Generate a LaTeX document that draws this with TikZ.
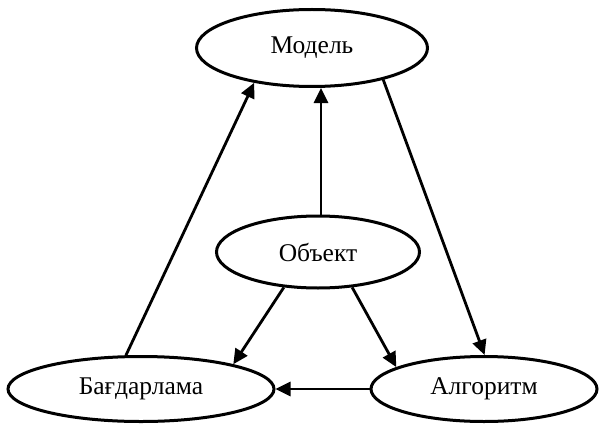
\documentclass[tikz,border=0pt]{standalone}
\usepackage{fontspec}
\setmainfont{Liberation Serif}
\usetikzlibrary{shapes.geometric,arrows.meta}
\begin{document}
\begin{tikzpicture}[x=1pt,y=-1pt,
  oval/.style={ellipse,draw,line width=3pt,inner sep=0pt,
    font=\fontsize{25.5}{30}\selectfont},
  arr/.style={line width=2.8pt,-{Triangle[length=15pt,width=14pt]}}]
\useasboundingbox (0,0) rectangle (601,425);
\node[oval,minimum width=231pt,minimum height=77pt] (model) at (312,48) {Модель};
\node[oval,minimum width=203pt,minimum height=72pt] (obj) at (318,252) {Объект};
\node[oval,minimum width=266pt,minimum height=65pt] (prog) at (141,389) {Бағдарлама};
\node[oval,minimum width=226pt,minimum height=65pt] (algo) at (484,389) {Алгоритм};
\coordinate (vtop) at ([xshift=3pt]obj.north |- model.south);
\draw[arr] ([xshift=3pt]obj.north) -- (vtop);
\draw[arr] (prog.114) -- (model.211);
\draw[arr] (model.336) -- (algo.89);
\draw[arr] (obj.226) -- (prog.15);
\draw[arr] (obj.314) -- (algo.166);
\draw[arr] (algo.west) -- (prog.east);
\end{tikzpicture}
\end{document}
